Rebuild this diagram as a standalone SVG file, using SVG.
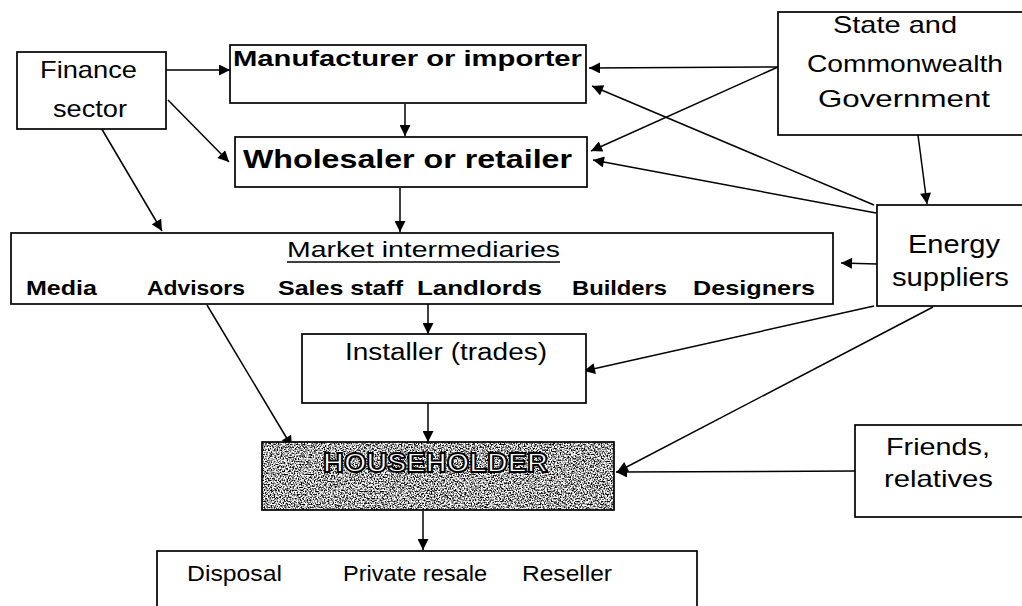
<svg xmlns="http://www.w3.org/2000/svg" width="1022" height="606" viewBox="0 0 1022 606">
  <style>
    .box { fill: #fff; stroke: #000; stroke-width: 1.7; }
    .lbl { font-family: "Liberation Sans", Arial, sans-serif; fill: #000; }
    .b { font-weight: bold; }
    .conn line { stroke: #000; stroke-width: 1.5; fill: none; marker-end: url(#arr); }
    .hh { font-family: "Liberation Sans", Arial, sans-serif; font-weight: bold; fill: #fff; stroke: #000; stroke-width: 1.8; }
  </style>
  <defs>
    <marker id="arr" viewBox="0 0 10 10" refX="10" refY="5" markerWidth="12" markerHeight="11" markerUnits="userSpaceOnUse" orient="auto">
      <path d="M0,0 L10,5 L0,10 z" fill="#000"/>
    </marker>
    <!-- speckled grey fill for the householder panel -->
    <filter id="grain" x="0" y="0" width="100%" height="100%" color-interpolation-filters="sRGB">
      <feTurbulence type="fractalNoise" baseFrequency="0.7" numOctaves="2" seed="7" result="n"/>
      <feColorMatrix in="n" type="matrix" values="3.5 0 0 0 -1.1  3.5 0 0 0 -1.1  3.5 0 0 0 -1.1  0 0 0 0 1" result="g"/>
      <feComposite in="g" in2="SourceGraphic" operator="in"/>
    </filter>
  </defs>

  <rect width="1022" height="606" fill="#fff"/>

  <!-- connectors -->
  <g id="connectors" class="conn">
    <line x1="166" y1="70" x2="230" y2="70"/>
    <line x1="168" y1="100" x2="229" y2="162"/>
    <line x1="100" y1="126" x2="162" y2="231"/>
    <line x1="405" y1="104" x2="405" y2="136"/>
    <line x1="400" y1="188" x2="400" y2="232"/>
    <line x1="778" y1="67" x2="589" y2="68"/>
    <line x1="778" y1="67" x2="591" y2="151"/>
    <line x1="918" y1="135" x2="927" y2="204"/>
    <line x1="874" y1="205" x2="592" y2="86"/>
    <line x1="876" y1="213" x2="593" y2="160"/>
    <line x1="877" y1="264" x2="841" y2="263"/>
    <line x1="874" y1="306" x2="584" y2="371"/>
    <line x1="933" y1="307" x2="617" y2="472"/>
    <line x1="855" y1="471" x2="616" y2="472"/>
    <line x1="207" y1="305" x2="292" y2="447"/>
    <line x1="428" y1="304" x2="428" y2="334"/>
    <line x1="428" y1="403" x2="428" y2="442"/>
    <line x1="423" y1="511" x2="423" y2="550"/>
  </g>

  <g id="finance">
    <rect class="box" x="17" y="52" width="149" height="77"/>
    <text class="lbl" x="40" y="78" font-size="24" textLength="97" lengthAdjust="spacingAndGlyphs">Finance</text>
    <text class="lbl" x="53" y="117" font-size="24" textLength="74" lengthAdjust="spacingAndGlyphs">sector</text>
  </g>

  <g id="manufacturer">
    <rect class="box" x="230" y="45" width="356" height="58"/>
    <text class="lbl b" x="233" y="66" font-size="22" textLength="349" lengthAdjust="spacingAndGlyphs">Manufacturer or importer</text>
  </g>

  <g id="wholesaler">
    <rect class="box" x="235" y="137" width="352" height="50"/>
    <text class="lbl b" x="243" y="168" font-size="25" textLength="329" lengthAdjust="spacingAndGlyphs">Wholesaler or retailer</text>
  </g>

  <g id="government">
    <rect class="box" x="778" y="12" width="250" height="123"/>
    <text class="lbl" x="833" y="33" font-size="24" textLength="124" lengthAdjust="spacingAndGlyphs">State and</text>
    <text class="lbl" x="807" y="72" font-size="24" textLength="196" lengthAdjust="spacingAndGlyphs">Commonwealth</text>
    <text class="lbl" x="818" y="107" font-size="24" textLength="172" lengthAdjust="spacingAndGlyphs">Government</text>
  </g>

  <g id="energy">
    <rect class="box" x="877" y="205" width="151" height="101"/>
    <text class="lbl" x="908" y="253" font-size="25" textLength="92" lengthAdjust="spacingAndGlyphs">Energy</text>
    <text class="lbl" x="892" y="286" font-size="25" textLength="117" lengthAdjust="spacingAndGlyphs">suppliers</text>
  </g>

  <g id="intermediaries">
    <rect class="box" x="11" y="233" width="822" height="71"/>
    <text class="lbl" x="287" y="257" font-size="22" textLength="273" lengthAdjust="spacingAndGlyphs">Market intermediaries</text>
    <line x1="287" y1="262" x2="560" y2="262" stroke="#000" stroke-width="1.5"/>
    <text class="lbl b" x="26" y="295" font-size="21" textLength="71" lengthAdjust="spacingAndGlyphs">Media</text>
    <text class="lbl b" x="147" y="295" font-size="21" textLength="98" lengthAdjust="spacingAndGlyphs">Advisors</text>
    <text class="lbl b" x="278" y="295" font-size="21" textLength="125" lengthAdjust="spacingAndGlyphs">Sales staff</text>
    <text class="lbl b" x="417" y="295" font-size="21" textLength="125" lengthAdjust="spacingAndGlyphs">Landlords</text>
    <text class="lbl b" x="572" y="295" font-size="21" textLength="95" lengthAdjust="spacingAndGlyphs">Builders</text>
    <text class="lbl b" x="693" y="295" font-size="21" textLength="122" lengthAdjust="spacingAndGlyphs">Designers</text>
  </g>

  <g id="installer">
    <rect class="box" x="302" y="334" width="284" height="69"/>
    <text class="lbl" x="345" y="360" font-size="23" textLength="202" lengthAdjust="spacingAndGlyphs">Installer (trades)</text>
  </g>

  <g id="householder">
    <rect x="262" y="442" width="352" height="68" fill="#000" filter="url(#grain)"/>
    <rect x="262" y="442" width="352" height="68" fill="none" stroke="#000" stroke-width="1.7"/>
    <text class="hh" x="323" y="472" font-size="27" textLength="225" lengthAdjust="spacingAndGlyphs">HOUSEHOLDER</text>
  </g>

  <g id="friends">
    <rect class="box" x="855" y="425" width="173" height="92"/>
    <text class="lbl" x="886" y="455" font-size="24" textLength="104" lengthAdjust="spacingAndGlyphs">Friends,</text>
    <text class="lbl" x="884" y="487" font-size="24" textLength="109" lengthAdjust="spacingAndGlyphs">relatives</text>
  </g>

  <g id="endoflife">
    <rect class="box" x="157" y="551" width="540" height="70"/>
    <text class="lbl" x="187" y="581" font-size="22" textLength="95" lengthAdjust="spacingAndGlyphs">Disposal</text>
    <text class="lbl" x="343" y="581" font-size="22" textLength="144" lengthAdjust="spacingAndGlyphs">Private resale</text>
    <text class="lbl" x="522" y="581" font-size="22" textLength="90" lengthAdjust="spacingAndGlyphs">Reseller</text>
  </g>
</svg>
